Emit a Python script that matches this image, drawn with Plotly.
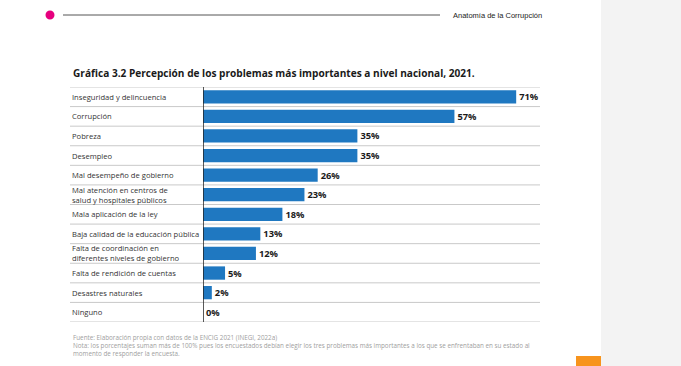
import plotly.graph_objects as go

categories = [
    "Inseguridad y delincuencia",
    "Corrupción",
    "Pobreza",
    "Desempleo",
    "Mal desempeño de gobierno",
    "Mal atención en centros de<br>salud y hospitales públicos",
    "Mala aplicación de la ley",
    "Baja calidad de la educación pública",
    "Falta de coordinación en<br>diferentes niveles de gobierno",
    "Falta de rendición de cuentas",
    "Desastres naturales",
    "Ninguno",
]
values = [71, 57, 35, 35, 26, 23, 18, 13, 12, 5, 2, 0]

title = "Gráfica 3.2 Percepción de los problemas más importantes a nivel nacional, 2021."
header = "Anatomía de la Corrupción"
notes = [
    "Fuente: Elaboración propia con datos de la ENCIG 2021 (INEGI, 2022a)",
    "Nota: los porcentajes suman más de 100% pues los encuestados debían elegir los tres problemas más importantes a los que se enfrentaban en su estado al",
    "momento de responder la encuesta.",
]

W, H = 681, 366
def px(x): return x / W
def py(y): return 1 - y / H

n = len(categories)
fig = go.Figure()
fig.add_trace(go.Bar(
    x=values, y=list(range(n)), orientation="h",
    marker=dict(color="#1f78c1", line=dict(width=0)),
    text=[f"{v}%" for v in values], textposition="outside",
    textfont=dict(family="Open Sans", size=9.3, color="#1a1a1a", weight="bold"),
    cliponaxis=False, width=0.68, hoverinfo="skip",
))

shapes = []
shapes.append(dict(type="rect", xref="paper", yref="paper", x0=px(601), x1=1, y0=0, y1=1,
                   fillcolor="#f3f3f3", line=dict(width=0), layer="below"))
shapes.append(dict(type="rect", xref="paper", yref="paper", x0=px(576), x1=px(601), y0=0, y1=py(356),
                   fillcolor="#f7941d", line=dict(width=0)))
shapes.append(dict(type="circle", xref="paper", yref="paper", x0=px(45.5), x1=px(54.5), y0=py(19.5), y1=py(10.5),
                   fillcolor="#e6007e", line=dict(width=0)))
shapes.append(dict(type="line", xref="paper", yref="paper", x0=px(63), x1=px(440), y0=py(15), y1=py(15),
                   line=dict(color="#555555", width=1)))
for k in range(n + 1):
    shapes.append(dict(type="line", xref="paper", yref="y", x0=px(70), x1=px(540),
                       y0=k - 0.5, y1=k - 0.5, line=dict(color="#c9c9c9", width=1), layer="below"))
shapes.append(dict(type="line", xref="x", yref="y", x0=0, x1=0, y0=-0.5, y1=n - 0.5,
                   line=dict(color="#222222", width=1.5)))

annotations = []
for i, c in enumerate(categories):
    annotations.append(dict(xref="paper", yref="y", x=px(70), y=i, text=c, showarrow=False,
                            xanchor="left", yanchor="middle", align="left",
                            font=dict(family="Open Sans", size=7.6, color="#333333")))
annotations.append(dict(xref="paper", yref="paper", x=px(71), y=py(73), text=f"<b>{title}</b>",
                        showarrow=False, xanchor="left", yanchor="middle",
                        font=dict(family="Open Sans", size=10.1, color="#1a1a1a")))
annotations.append(dict(xref="paper", yref="paper", x=px(451), y=py(15), text=header,
                        showarrow=False, xanchor="left", yanchor="middle",
                        font=dict(family="Liberation Sans", size=7.5, color="#222222")))
for j, t in enumerate(notes):
    annotations.append(dict(xref="paper", yref="paper", x=px(71), y=py(337 + j * 8), text=t,
                            showarrow=False, xanchor="left", yanchor="middle",
                            font=dict(family="Open Sans", size=6.3, color="#a0a0a0")))

fig.update_layout(
    width=W, height=H, margin=dict(l=0, r=0, t=0, b=0),
    paper_bgcolor="white", plot_bgcolor="rgba(0,0,0,0)",
    showlegend=False, bargap=0.34,
    xaxis=dict(domain=[px(203), px(540)], range=[0, 76.4], visible=False, fixedrange=True),
    yaxis=dict(domain=[py(322), py(87)], range=[n - 0.5, -0.5], visible=False, fixedrange=True),
    shapes=shapes, annotations=annotations,
)
fig.write_html("out.html", config={"displayModeBar": False, "staticPlot": True},
               post_script="document.body.style.margin='0';document.body.style.overflow='hidden';")
